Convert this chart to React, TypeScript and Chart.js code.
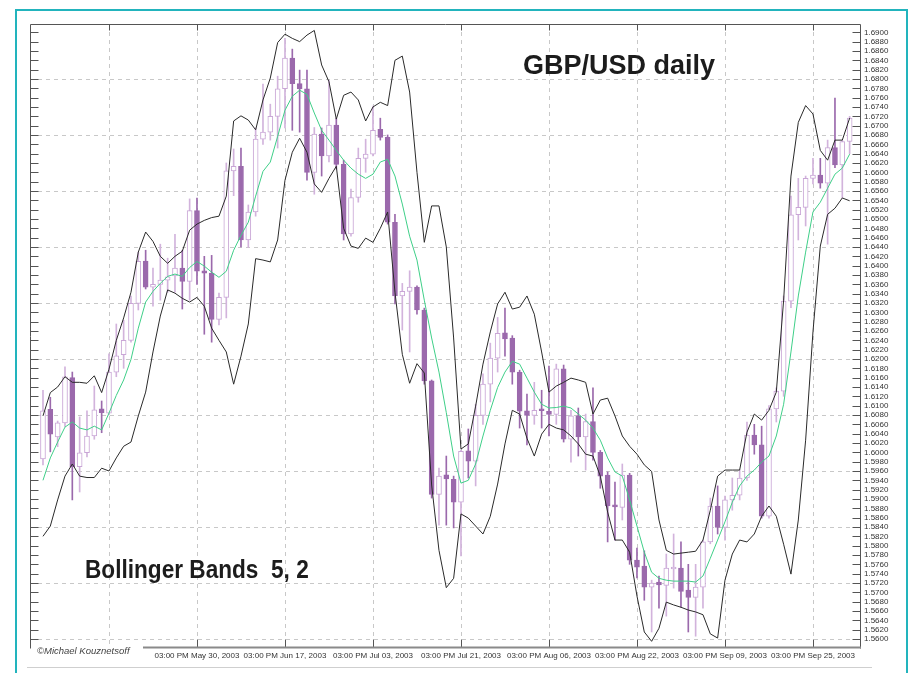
import React, { useEffect, useRef } from "react";
import { Chart, registerables } from "chart.js";

Chart.register(...registerables);

// ---- GBP/USD daily candles (bar 0 = 1 May 2003 ... bar 110) ----
const opens = [
  1.5986, 1.6092, 1.6033, 1.6063, 1.6160, 1.5969, 1.5999, 1.6035, 1.6093, 1.6084,
  1.6172, 1.6209, 1.6240, 1.6319, 1.6410, 1.6354, 1.6360, 1.6369, 1.6378, 1.6395,
  1.6366, 1.6518, 1.6389, 1.6384, 1.6285, 1.6332, 1.6603, 1.6613, 1.6455, 1.6515,
  1.6671, 1.6686, 1.6720, 1.6779, 1.6845, 1.6790, 1.6779, 1.6600, 1.6682, 1.6635,
  1.6701, 1.6617, 1.6468, 1.6546, 1.6630, 1.6639, 1.6692, 1.6675, 1.6493, 1.6335,
  1.6345, 1.6354, 1.6305, 1.6153, 1.5910, 1.5952, 1.5942, 1.5893, 1.6003, 1.5981,
  1.6079, 1.6146, 1.6202, 1.6256, 1.6245, 1.6172, 1.6089, 1.6079, 1.6092, 1.6088,
  1.6081, 1.6179, 1.6028, 1.6078, 1.6033, 1.6066, 1.6000, 1.5951, 1.5885, 1.5882,
  1.5951, 1.5769, 1.5756, 1.5711, 1.5722, 1.5715, 1.5750, 1.5752, 1.5705, 1.5689,
  1.5711, 1.5808, 1.5885, 1.5839, 1.5898, 1.5908, 1.5945, 1.6037, 1.6016, 1.5863,
  1.6093, 1.6131, 1.6324, 1.6509, 1.6525, 1.6587, 1.6594, 1.6577, 1.6653, 1.6616,
  1.6666,
];
const highs = [
  1.6133, 1.6118, 1.6067, 1.6183, 1.6172, 1.6076, 1.6089, 1.6142, 1.6110, 1.6211,
  1.6275, 1.6283, 1.6335, 1.6429, 1.6433, 1.6395, 1.6446, 1.6416, 1.6467, 1.6433,
  1.6543, 1.6545, 1.6420, 1.6422, 1.6341, 1.6620, 1.6650, 1.6652, 1.6530, 1.6695,
  1.6789, 1.6746, 1.6806, 1.6887, 1.6864, 1.6819, 1.6819, 1.6696, 1.6695, 1.6797,
  1.6716, 1.6626, 1.6564, 1.6652, 1.6671, 1.6742, 1.6716, 1.6680, 1.6510, 1.6362,
  1.6389, 1.6357, 1.6309, 1.6155, 1.5966, 1.5992, 1.5949, 1.6005, 1.6050, 1.6103,
  1.6168, 1.6234, 1.6289, 1.6309, 1.6250, 1.6176, 1.6125, 1.6150, 1.6133, 1.6185,
  1.6189, 1.6187, 1.6090, 1.6095, 1.6082, 1.6138, 1.6004, 1.5958, 1.5936, 1.5975,
  1.5955, 1.5795, 1.5789, 1.5726, 1.5735, 1.5782, 1.5825, 1.5808, 1.5760, 1.5760,
  1.5812, 1.5902, 1.5928, 1.5906, 1.5945, 1.5962, 1.6065, 1.6060, 1.6056, 1.6100,
  1.6138, 1.6335, 1.6549, 1.6587, 1.6592, 1.6630, 1.6630, 1.6669, 1.6759, 1.6669,
  1.6720,
];
const lows = [
  1.5973, 1.6001, 1.6012, 1.6055, 1.5898, 1.5915, 1.5990, 1.6028, 1.6042, 1.6080,
  1.6162, 1.6180, 1.6236, 1.6305, 1.6350, 1.6313, 1.6326, 1.6343, 1.6343, 1.6307,
  1.6326, 1.6360, 1.6253, 1.6236, 1.6273, 1.6288, 1.6550, 1.6440, 1.6439, 1.6506,
  1.6660, 1.6669, 1.6652, 1.6695, 1.6690, 1.6686, 1.6583, 1.6553, 1.6592, 1.6622,
  1.6607, 1.6455, 1.6463, 1.6536, 1.6600, 1.6635, 1.6669, 1.6489, 1.6318, 1.6262,
  1.6215, 1.6296, 1.6146, 1.5902, 1.5844, 1.5844, 1.5838, 1.5778, 1.5945, 1.5928,
  1.6060, 1.6108, 1.6172, 1.6206, 1.6146, 1.6052, 1.6016, 1.6060, 1.6052, 1.6035,
  1.6060, 1.6022, 1.5979, 1.5992, 1.5962, 1.5983, 1.5923, 1.5808, 1.5812, 1.5855,
  1.5760, 1.5731, 1.5683, 1.5615, 1.5666, 1.5649, 1.5709, 1.5668, 1.5615, 1.5606,
  1.5666, 1.5804, 1.5825, 1.5812, 1.5876, 1.5898, 1.5940, 1.5996, 1.5859, 1.5859,
  1.6065, 1.6120, 1.6310, 1.6455, 1.6485, 1.6575, 1.6566, 1.6446, 1.6610, 1.6545,
  1.6640,
];
const closes = [
  1.6089, 1.6039, 1.6063, 1.6162, 1.5969, 1.5999, 1.6035, 1.6091, 1.6085, 1.6172,
  1.6207, 1.6240, 1.6319, 1.6409, 1.6354, 1.6360, 1.6369, 1.6376, 1.6395, 1.6366,
  1.6518, 1.6388, 1.6384, 1.6285, 1.6332, 1.6603, 1.6613, 1.6455, 1.6515, 1.6671,
  1.6686, 1.6720, 1.6779, 1.6845, 1.6790, 1.6779, 1.6600, 1.6682, 1.6635, 1.6701,
  1.6617, 1.6468, 1.6546, 1.6630, 1.6639, 1.6690, 1.6675, 1.6493, 1.6335, 1.6345,
  1.6354, 1.6305, 1.6153, 1.5910, 1.5949, 1.5943, 1.5893, 1.6002, 1.5981, 1.6079,
  1.6146, 1.6202, 1.6255, 1.6243, 1.6172, 1.6088, 1.6079, 1.6090, 1.6089, 1.6081,
  1.6179, 1.6028, 1.6078, 1.6033, 1.6066, 1.6000, 1.5949, 1.5885, 1.5883, 1.5951,
  1.5769, 1.5754, 1.5711, 1.5720, 1.5716, 1.5752, 1.5754, 1.5702, 1.5689, 1.5711,
  1.5808, 1.5885, 1.5839, 1.5898, 1.5908, 1.5945, 1.6037, 1.6016, 1.5863, 1.6093,
  1.6131, 1.6324, 1.6509, 1.6525, 1.6587, 1.6594, 1.6577, 1.6653, 1.6616, 1.6666,
  1.6716,
];

// ---- Bollinger Bands (5, 2) as drawn ----
const upperBand = [
  1.6078, 1.6128, 1.6140, 1.6162, 1.6150, 1.6150, 1.6148, 1.6164, 1.6128, 1.6178,
  1.6240, 1.6288, 1.6343, 1.6429, 1.6472, 1.6452, 1.6420, 1.6405, 1.6420, 1.6431,
  1.6476, 1.6489, 1.6497, 1.6503, 1.6506, 1.6549, 1.6710, 1.6721, 1.6712, 1.6691,
  1.6755, 1.6802, 1.6878, 1.6896, 1.6887, 1.6880, 1.6894, 1.6904, 1.6830, 1.6794,
  1.6714, 1.6765, 1.6772, 1.6755, 1.6710, 1.6740, 1.6750, 1.6743, 1.6840, 1.6849,
  1.6772, 1.6600, 1.6450, 1.6528, 1.6528, 1.6440, 1.6245, 1.6007, 1.6018, 1.6099,
  1.6189, 1.6258, 1.6318, 1.6343, 1.6307, 1.6311, 1.6335, 1.6296, 1.6215, 1.6129,
  1.6142, 1.6150, 1.6159, 1.6155, 1.6150, 1.6082, 1.6112, 1.6116, 1.6078, 1.6035,
  1.6013, 1.5996, 1.5973, 1.5959, 1.5855, 1.5790, 1.5782, 1.5784, 1.5786, 1.5788,
  1.5812, 1.5876, 1.5949, 1.5962, 1.5962, 1.5962, 1.6043, 1.6082, 1.6069, 1.6090,
  1.6129, 1.6326, 1.6592, 1.6707, 1.6743, 1.6725, 1.6647, 1.6626, 1.6669, 1.6669,
  1.6716,
];
const middleBand = [
  1.5940, 1.5988, 1.6022, 1.6054, 1.6065, 1.6052, 1.6048, 1.6056, 1.6048, 1.6084,
  1.6122, 1.6155, 1.6199, 1.6266, 1.6322, 1.6345, 1.6362, 1.6377, 1.6382, 1.6377,
  1.6396, 1.6409, 1.6399, 1.6386, 1.6375, 1.6388, 1.6433, 1.6465, 1.6493, 1.6549,
  1.6602, 1.6622, 1.6677, 1.6733, 1.6763, 1.6776, 1.6767, 1.6727, 1.6690, 1.6669,
  1.6647, 1.6626, 1.6609, 1.6596, 1.6587, 1.6596, 1.6622, 1.6628, 1.6592, 1.6532,
  1.6463, 1.6412, 1.6326, 1.6245, 1.6172, 1.6085, 1.5992, 1.5934, 1.5940, 1.5975,
  1.6035, 1.6090, 1.6139, 1.6172, 1.6195, 1.6189, 1.6159, 1.6129, 1.6103, 1.6095,
  1.6096, 1.6099, 1.6095, 1.6082, 1.6069, 1.6052, 1.6026, 1.5988, 1.5958, 1.5949,
  1.5898, 1.5842, 1.5786, 1.5743, 1.5730, 1.5726, 1.5724, 1.5724, 1.5724, 1.5722,
  1.5735, 1.5773, 1.5812, 1.5851, 1.5893, 1.5928, 1.5949, 1.5962, 1.5979, 1.5992,
  1.6035, 1.6103, 1.6215, 1.6335, 1.6429, 1.6515, 1.6536, 1.6566, 1.6596, 1.6609,
  1.6639,
];
const lowerBand = [
  1.5820, 1.5842, 1.5898, 1.5949, 1.5975, 1.5949, 1.5946, 1.5946, 1.5966, 1.5960,
  1.5988, 1.6013, 1.6022, 1.6078, 1.6129, 1.6215, 1.6292, 1.6348, 1.6341, 1.6330,
  1.6322, 1.6332, 1.6313, 1.6266, 1.6240, 1.6215, 1.6146, 1.6206, 1.6275, 1.6415,
  1.6412, 1.6408, 1.6455, 1.6583, 1.6643, 1.6673, 1.6643, 1.6575, 1.6557, 1.6587,
  1.6613, 1.6480, 1.6442, 1.6437, 1.6459, 1.6450, 1.6480, 1.6515, 1.6343, 1.6210,
  1.6148, 1.6190, 1.6170, 1.5930, 1.5790, 1.5710, 1.5730, 1.5868, 1.5859, 1.5842,
  1.5825, 1.5863, 1.5932, 1.6018, 1.6090, 1.6082, 1.6030, 1.5992, 1.6039, 1.6060,
  1.6052, 1.6048, 1.6035, 1.6018, 1.5996, 1.5992, 1.5949, 1.5872, 1.5812, 1.5812,
  1.5786, 1.5692, 1.5615, 1.5595, 1.5623, 1.5679, 1.5673, 1.5668, 1.5662, 1.5658,
  1.5652, 1.5611, 1.5602, 1.5726, 1.5782, 1.5812, 1.5808, 1.5825, 1.5863, 1.5885,
  1.5863, 1.5803, 1.5739, 1.5855, 1.6026, 1.6258, 1.6442, 1.6510, 1.6523, 1.6545,
  1.6539,
];

// ---- axes ----
const xTickBars = [21, 33, 45, 57, 69, 81, 93, 105];
const xTickLabels = [
  "03:00 PM May 30, 2003",
  "03:00 PM Jun 17, 2003",
  "03:00 PM Jul 03, 2003",
  "03:00 PM Jul 21, 2003",
  "03:00 PM Aug 06, 2003",
  "03:00 PM Aug 22, 2003",
  "03:00 PM Sep 09, 2003",
  "03:00 PM Sep 25, 2003",
];
const xGridBars = [9, 21, 33, 45, 57, 69, 81, 93, 105];
const yGridLevels = [1.56, 1.572, 1.584, 1.596, 1.608, 1.62, 1.632, 1.644, 1.656, 1.668, 1.68];
const yTickFirst = 1.56;
const yTickLast = 1.69;
const yTickStep = 0.002;

const X_MIN = -1.77;
const X_MAX = 111.55;
const Y_MIN = 1.55807;
const Y_MAX = 1.69178;

const FONT = '"Liberation Sans", Arial, Helvetica, sans-serif';
const BEAR = "#9b69ac";
const BULL_EDGE = "#c9a6d6";
const BULL_WICK = "#d2b3dc";

const framePlugin = {
  id: "fxFrame",
  beforeDatasetsDraw(chart: any) {
    const { ctx, chartArea: a, scales } = chart;
    const x = scales.x;
    const y = scales.y;
    ctx.save();
    ctx.strokeStyle = "#c8c8c8";
    ctx.lineWidth = 1;
    ctx.setLineDash([4, 4]);
    ctx.beginPath();
    yGridLevels.forEach((v) => {
      const p = Math.round(y.getPixelForValue(v)) + 0.5;
      ctx.moveTo(a.left, p);
      ctx.lineTo(a.right, p);
    });
    xGridBars.forEach((b) => {
      const p = Math.round(x.getPixelForValue(b)) + 0.5;
      ctx.moveTo(p, a.top);
      ctx.lineTo(p, a.bottom);
    });
    ctx.stroke();
    ctx.restore();
  },
  afterDatasetsDraw(chart: any) {
    const { ctx, chartArea: a, scales } = chart;
    const x = scales.x;
    const y = scales.y;
    const L = Math.round(a.left) + 0.5;
    const R = Math.round(a.right) - 0.5;
    const T = Math.round(a.top) + 0.5;
    const B = Math.round(a.bottom) - 0.5;
    ctx.save();
    ctx.strokeStyle = "#555";
    ctx.lineWidth = 1;
    ctx.beginPath();
    ctx.moveTo(L, T);
    ctx.lineTo(R, T);
    ctx.moveTo(L, T);
    ctx.lineTo(L, B + 1);
    ctx.moveTo(R, T);
    ctx.lineTo(R, B + 1);
    y.ticks.forEach((t: any) => {
      const p = Math.round(y.getPixelForValue(t.value)) + 0.5;
      ctx.moveTo(L, p);
      ctx.lineTo(L + 8, p);
      ctx.moveTo(R - 8, p);
      ctx.lineTo(R, p);
    });
    xGridBars.forEach((b) => {
      const p = Math.round(x.getPixelForValue(b)) + 0.5;
      ctx.moveTo(p, T);
      ctx.lineTo(p, T + 6);
    });
    xTickBars.forEach((b) => {
      const p = Math.round(x.getPixelForValue(b)) + 0.5;
      ctx.moveTo(p, B);
      ctx.lineTo(p, B - 8);
    });
    ctx.stroke();
    ctx.strokeStyle = "#8a8a8a";
    ctx.lineWidth = 2;
    ctx.beginPath();
    ctx.moveTo(143, Math.round(a.bottom) - 0.5);
    ctx.lineTo(a.right, Math.round(a.bottom) - 0.5);
    ctx.stroke();
    ctx.restore();
  },
};

export default function App() {
  const canvasRef = useRef<HTMLCanvasElement | null>(null);

  useEffect(() => {
    const canvas = canvasRef.current;
    if (!canvas) return;
    const idx = opens.map((_, i) => i);
    const isBull = (i: number) => closes[i] >= opens[i];
    const yTickValues: number[] = [];
    const nTicks = Math.round((yTickLast - yTickFirst) / yTickStep);
    for (let k = 0; k <= nTicks; k++) yTickValues.push(Number((yTickFirst + k * yTickStep).toFixed(4)));

    const chart = new Chart(canvas, {
      type: "bar",
      data: {
        datasets: [
          {
            type: "line",
            label: "Upper band",
            data: idx.map((i) => ({ x: i, y: upperBand[i] })),
            borderColor: "#2a2a2a",
            borderWidth: 1,
            pointRadius: 0,
            tension: 0,
            order: 0,
          } as any,
          {
            type: "line",
            label: "Lower band",
            data: idx.map((i) => ({ x: i, y: lowerBand[i] })),
            borderColor: "#2a2a2a",
            borderWidth: 1,
            pointRadius: 0,
            tension: 0,
            order: 0,
          } as any,
          {
            type: "line",
            label: "Middle band",
            data: idx.map((i) => ({ x: i, y: middleBand[i] })),
            borderColor: "#3fcf88",
            borderWidth: 1,
            pointRadius: 0,
            tension: 0,
            order: 0,
          } as any,
          {
            type: "bar",
            label: "Body",
            data: idx.map((i) => ({
              x: i,
              y: [Math.min(opens[i], closes[i]), Math.max(opens[i], closes[i])],
            })),
            backgroundColor: idx.map((i) => (isBull(i) ? "#ffffff" : BEAR)),
            borderColor: idx.map((i) => (isBull(i) ? BULL_EDGE : BEAR)),
            borderWidth: 1,
            borderSkipped: false,
            barThickness: 5,
            minBarLength: 2,
            grouped: false,
            order: 1,
          } as any,
          {
            type: "bar",
            label: "Wick",
            data: idx.map((i) => ({ x: i, y: [lows[i], highs[i]] })),
            backgroundColor: idx.map((i) => (isBull(i) ? BULL_WICK : BEAR)),
            borderWidth: 0,
            barThickness: 1,
            grouped: false,
            order: 2,
          } as any,
        ],
      },
      options: {
        responsive: false,
        animation: false,
        devicePixelRatio: 1,
        layout: { padding: { left: 30, top: 24, right: 0, bottom: 0 } },
        plugins: {
          legend: { display: false },
          tooltip: { enabled: false },
          title: { display: false },
        },
        scales: {
          x: {
            type: "linear",
            min: X_MIN,
            max: X_MAX,
            offset: false,
            grid: { display: false, drawTicks: false },
            border: { display: false },
            afterBuildTicks: (s: any) => {
              s.ticks = xTickBars.map((v) => ({ value: v }));
            },
            afterFit: (s: any) => {
              s.height = 25;
            },
            ticks: {
              autoSkip: false,
              maxRotation: 0,
              minRotation: 0,
              padding: 3,
              color: "#333",
              font: { family: FONT, size: 8 },
              callback: (v: any) => {
                const k = xTickBars.indexOf(Number(v));
                return k >= 0 ? xTickLabels[k] : "";
              },
            },
          },
          y: {
            type: "linear",
            position: "right",
            min: Y_MIN,
            max: Y_MAX,
            grid: { display: false, drawTicks: false },
            border: { display: false },
            afterBuildTicks: (s: any) => {
              s.ticks = yTickValues.map((v) => ({ value: v }));
            },
            afterFit: (s: any) => {
              s.width = 50;
            },
            ticks: {
              autoSkip: false,
              padding: 3,
              color: "#333",
              font: { family: FONT, size: 8 },
              callback: (v: any) => Number(v).toFixed(4),
            },
          },
        },
      } as any,
      plugins: [framePlugin],
    });
    return () => chart.destroy();
  }, []);

  return (
    <div
      style={{
        position: "absolute",
        left: 0,
        top: 0,
        width: 911,
        height: 673,
        background: "#fff",
        overflow: "hidden",
      }}
    >
      <canvas
        ref={canvasRef}
        width={911}
        height={673}
        style={{ position: "absolute", left: 0, top: 0, width: 911, height: 673, display: "block" }}
      />
      <div
        style={{
          position: "absolute",
          left: 15,
          top: 9,
          width: 893,
          height: 700,
          border: "2px solid #22b4bd",
          boxSizing: "border-box",
          pointerEvents: "none",
        }}
      />
      <div
        style={{
          position: "absolute",
          left: 27,
          top: 667,
          width: 845,
          height: 1,
          background: "#cfcfcf",
        }}
      />
      <div
        style={{
          position: "absolute",
          left: 523,
          top: 51.5,
          font: `bold 27px ${FONT}`,
          lineHeight: "27px",
          color: "#1c1c1c",
          whiteSpace: "pre",
        }}
      >
        GBP/USD daily
      </div>
      <div
        style={{
          position: "absolute",
          left: 85,
          top: 555.5,
          font: `bold 26px ${FONT}`,
          lineHeight: "26px",
          color: "#1c1c1c",
          whiteSpace: "pre",
          transform: "scaleX(0.87)",
          transformOrigin: "0 0",
        }}
      >
        {"Bollinger Bands  5, 2"}
      </div>
      <div
        style={{
          position: "absolute",
          left: 37,
          top: 645,
          font: `italic 9.5px ${FONT}`,
          lineHeight: "12px",
          color: "#444",
          whiteSpace: "pre",
        }}
      >
        {"\u00A9Michael Kouznetsoff"}
      </div>
    </div>
  );
}
